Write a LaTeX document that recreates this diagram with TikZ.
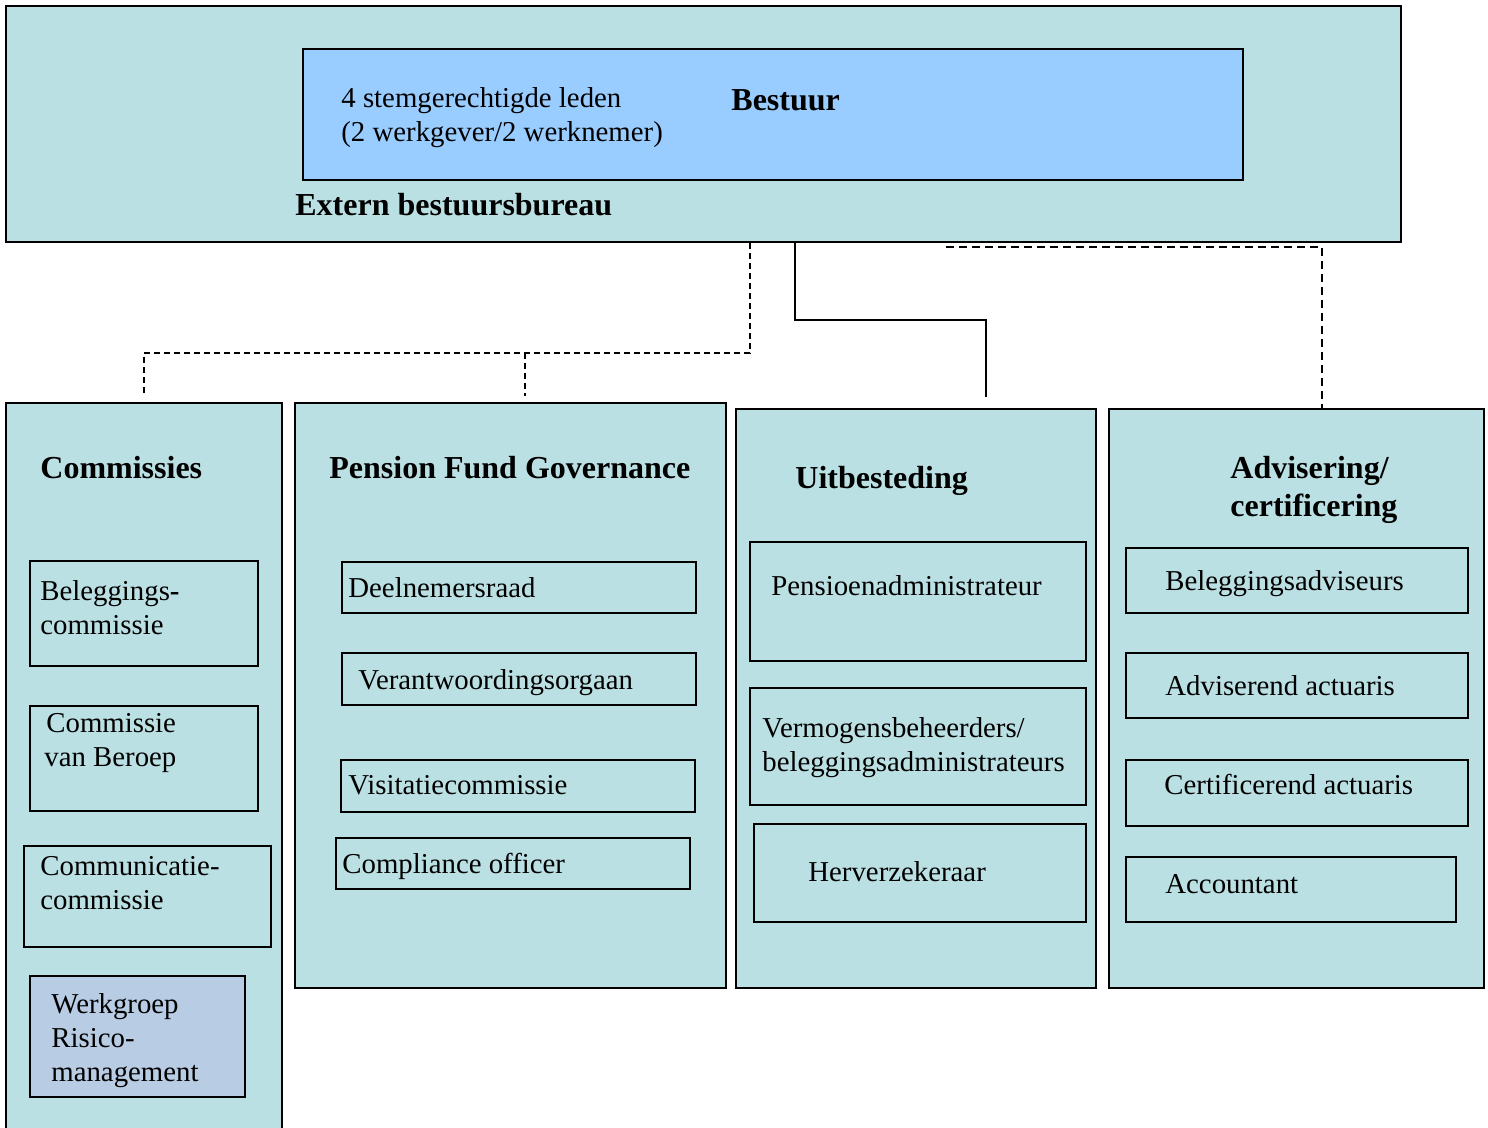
\documentclass[tikz,border=0pt]{standalone}
\usepackage{fontspec}
\setmainfont{Liberation Serif}
\usetikzlibrary{fit}
\definecolor{tealfill}{HTML}{BBE0E3}
\definecolor{bestuurfill}{HTML}{99CCFF}
\definecolor{werkfill}{HTML}{B8CCE4}
\begin{document}
\begin{tikzpicture}[x=0.5pt,y=-0.5pt,
  box/.style={draw=black, line width=1pt, fill=tealfill, inner sep=0pt},
  txt/.style={anchor=base west, inner sep=0pt, align=left, font=\fontsize{14.4}{17}\selectfont},
  ttl/.style={anchor=base west, inner sep=0pt, align=left, font=\fontsize{16}{19}\selectfont\bfseries},
  solidconn/.style={draw=black, line width=1pt},
  fineconn/.style={draw=black, line width=1pt, dash pattern=on 3pt off 2pt},
  boldconn/.style={draw=black, line width=1.4pt, dash pattern=on 4pt off 2.5pt},
]
\useasboundingbox (0,0) rectangle (1488,1128);
% top
\node[box, fit={(6,6) (1401,242)}] (top) {};
\node[box, fill=bestuurfill, fit={(303,49) (1243,180)}] (bestuur) {};
\node[txt] (ledentxt) at (341,142) {4 stemgerechtigde leden\\(2 werkgever/2 werknemer)};
\node[ttl] (bestuurtxt) at (731,111) {Bestuur};
\node[ttl] (externtxt) at (295,216) {Extern bestuursbureau};
% columns
\node[box, fit={(6,403) (282,1140)}] (comm) {};
\node[box, fit={(295,403) (726,988)}] (pfg) {};
\node[box, fit={(736,409) (1096,988)}] (uit) {};
\node[box, fit={(1109,409) (1484,988)}] (adv) {};
% Commissies
\node[ttl] (commtxt) at (40,478) {Commissies};
\node[box, fit={(30,561) (258,666)}] (b1) {};
\node[txt] (b1t) at (40,634) {Beleggings{\bfseries-}\\commissie};
\node[box, fit={(30,706) (258,811)}] (b2) {};
\node[txt] (b2t) at (46,732) {Commissie};
\node[txt] (b2u) at (44,766) {van Beroep};
\node[box, fit={(24,846) (271,947)}] (b3) {};
\node[txt] (b3t) at (40,909) {Communicatie-\\commissie};
\node[box, fill=werkfill, fit={(30,976) (245,1097)}] (b4) {};
\node[txt] (b4t) at (51,1081) {Werkgroep\\Risico-\\management};
% PFG
\node[ttl] (pfgtxt) at (329,478) {Pension Fund Governance};
\node[box, fit={(342,562) (696,613)}] (p1) {};
\node[txt] (p1t) at (348,597) {Deelnemersraad};
\node[box, fit={(342,653) (696,705)}] (p2) {};
\node[txt] (p2t) at (358,689) {Verantwoordingsorgaan};
\node[box, fit={(341,760) (695,812)}] (p3) {};
\node[txt] (p3t) at (348,794) {Visitatiecommissie};
\node[box, fit={(336,838) (690,889)}] (p4) {};
\node[txt] (p4t) at (342,873) {Compliance officer};
% Uitbesteding
\node[ttl] (uittxt) at (795,488) {Uitbesteding};
\node[box, fit={(750,542) (1086,661)}] (u1) {};
\node[txt] (u1t) at (771,595) {Pensioenadministrateur};
\node[box, fit={(750,688) (1086,805)}] (u2) {};
\node[txt] (u2t) at (762,771) {Vermogensbeheerders/\\beleggingsadministrateurs};
\node[box, fit={(754,824) (1086,922)}] (u3) {};
\node[txt] (u3t) at (808,881) {Herverzekeraar};
% Advisering
\node[ttl] (advtxt) at (1230,516) {Advisering/\\certificering};
\node[box, fit={(1126,548) (1468,613)}] (a1) {};
\node[txt] (a1t) at (1165,590) {Beleggingsadviseurs};
\node[box, fit={(1126,653) (1468,718)}] (a2) {};
\node[txt] (a2t) at (1165,695) {Adviserend actuaris};
\node[box, fit={(1126,760) (1468,826)}] (a3) {};
\node[txt] (a3t) at (1164,794) {Certificerend actuaris};
\node[box, fit={(1126,857) (1456,922)}] (a4) {};
\node[txt] (a4t) at (1165,893) {Accountant};
% connectors
\coordinate (j1) at (750,353);
\coordinate (j2) at (525,353);
\draw[fineconn] (top.south -| j1) -- (j1) -| ([yshift=3pt]comm.north -| 144,0);
\draw[fineconn] (j2) -- ([yshift=3pt]pfg.north -| j2);
\coordinate (j3) at (986,320);
\draw[solidconn] (top.south -| 795,0) |- (j3) -- ([yshift=5.5pt]uit.north -| j3);
\coordinate (j4) at (946,247);
\draw[boldconn] (j4) -| (adv.north -| 1322,0);
\end{tikzpicture}
\end{document}
